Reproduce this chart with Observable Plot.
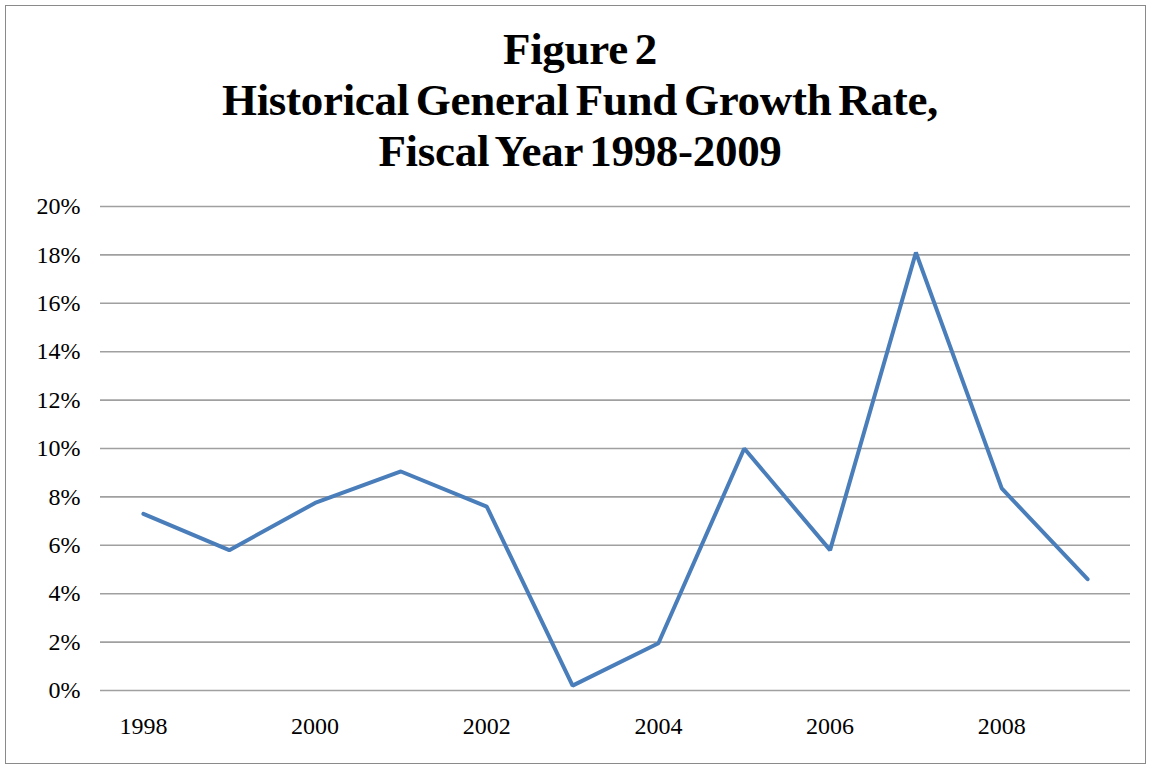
<!DOCTYPE html>
<html>
<head>
<meta charset="utf-8">
<script src="https://cdn.jsdelivr.net/npm/d3@7"></script>
<script src="https://cdn.jsdelivr.net/npm/@observablehq/plot@0.6"></script>
<style>
  html, body { margin: 0; padding: 0; background: #fff; }
  #wrap { position: relative; width: 1151px; height: 769px; overflow: hidden; background: #fff; }
  #border { position: absolute; left: 5px; top: 5px; width: 1141px; height: 759px; border: 1.5px solid #8a8a8a; box-sizing: border-box; }
  #title { position: absolute; left: 0; top: 24px; width: 1160px; text-align: center;
           font-family: "Liberation Serif", "Times New Roman", serif; font-weight: bold;
           font-size: 45px; line-height: 51px; color: #000; letter-spacing: -0.3px; word-spacing: -4px; }
  #chart { position: absolute; left: 0; top: 185px; }
</style>
</head>
<body>
<div id="wrap">
  <div id="border"></div>
  <div id="title">Figure 2<br>Historical General Fund Growth Rate,<br>Fiscal Year 1998-2009</div>
  <div id="chart"></div>
</div>
<script>
const years = [1998, 1999, 2000, 2001, 2002, 2003, 2004, 2005, 2006, 2007, 2008, 2009];
const growthRate = [7.3, 5.8, 7.75, 9.05, 7.6, 0.2, 1.95, 10.0, 5.8, 18.1, 8.35, 4.6];
const yTicks = [0, 2, 4, 6, 8, 10, 12, 14, 16, 18, 20];
const xTicks = [1998, 2000, 2002, 2004, 2006, 2008];

const data = years.map((y, i) => ({year: y, value: growthRate[i]}));

const chart = Plot.plot({
  width: 1151,
  height: 565,
  marginLeft: 100,
  marginRight: 21,
  marginTop: 21,
  marginBottom: 60,
  style: {fontFamily: '"Liberation Serif", "Times New Roman", serif', fontSize: "24px", color: "#000", background: "transparent"},
  x: {type: "point", domain: years, padding: 0.5, round: false, label: null},
  y: {domain: [0, 20], label: null},
  marks: [
    Plot.gridY(yTicks, {stroke: "#a0a0a0", strokeOpacity: 1, strokeWidth: 1.6}),
    Plot.axisY({ticks: yTicks, tickFormat: d => d + "%", tickSize: 0, tickPadding: 20, label: null, fontSize: 24}),
    Plot.axisX({ticks: xTicks, tickFormat: d => String(d), tickSize: 0, tickPadding: 26, label: null, fontSize: 24}),
    Plot.line(data, {x: "year", y: "value", stroke: "#4a7ebb", strokeWidth: 4, strokeLinejoin: "miter"})
  ]
});
document.getElementById("chart").appendChild(chart);
</script>
</body>
</html>
